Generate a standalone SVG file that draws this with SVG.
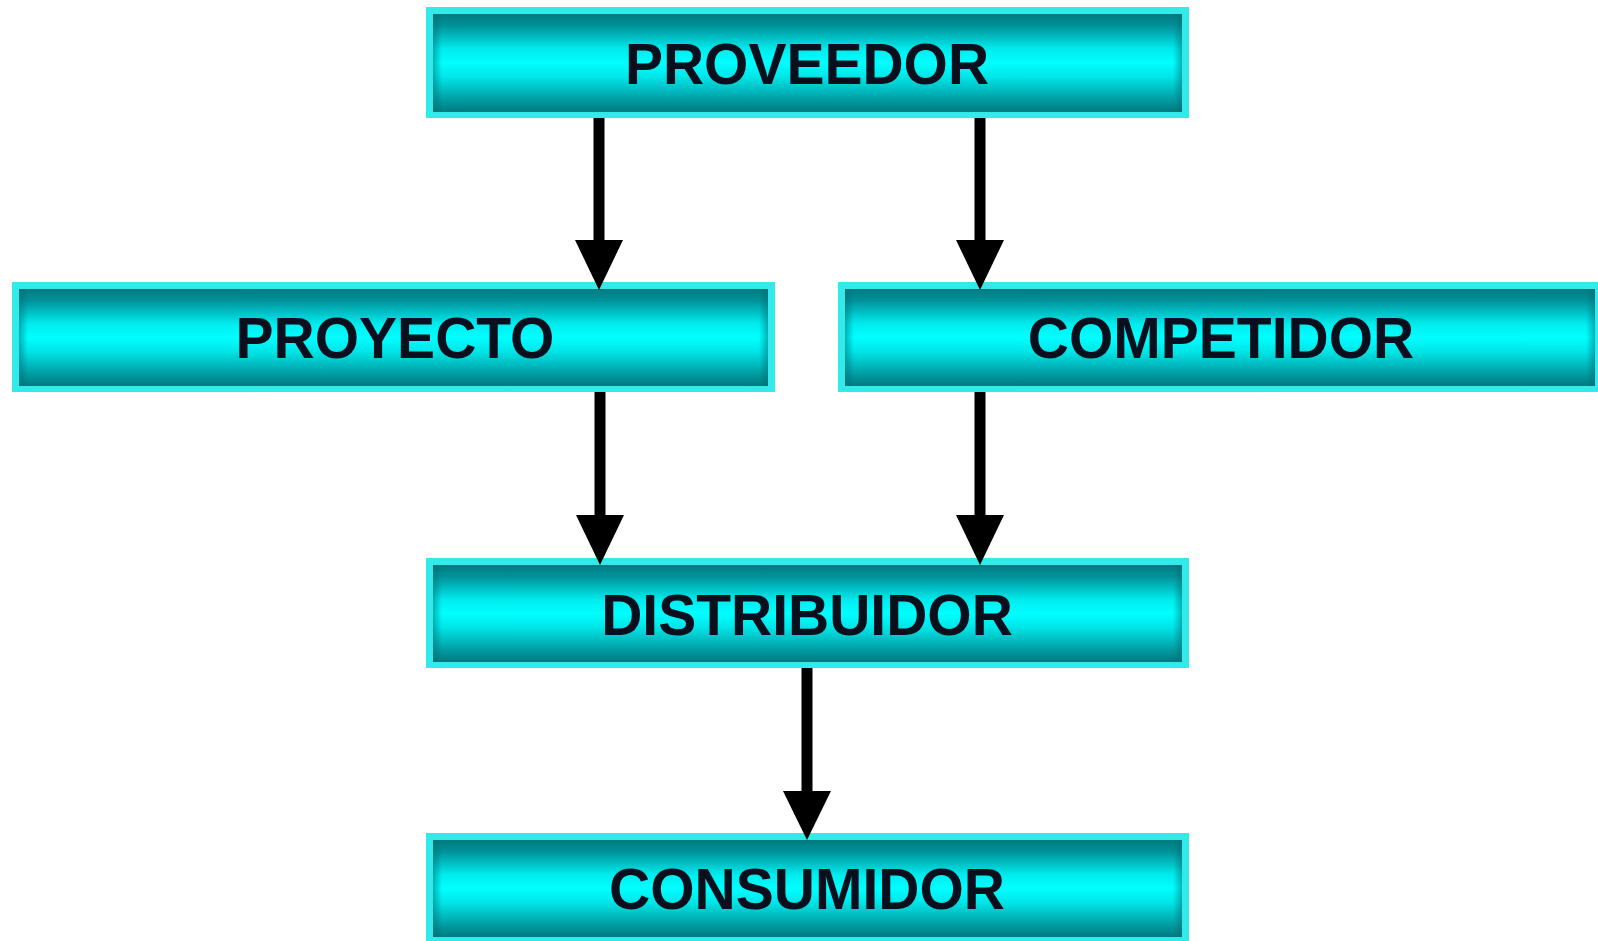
<svg xmlns="http://www.w3.org/2000/svg" width="1598" height="941" viewBox="0 0 1598 941">
<defs>
<linearGradient id="tube" x1="0" y1="0" x2="0" y2="1">
<stop offset="0" stop-color="#007a80"/>
<stop offset="0.12" stop-color="#00929a"/>
<stop offset="0.36" stop-color="#00ecee"/>
<stop offset="0.5" stop-color="#00ffff"/>
<stop offset="0.64" stop-color="#00e6e8"/>
<stop offset="0.9" stop-color="#00959a"/>
<stop offset="1" stop-color="#007a80"/>
</linearGradient>
<linearGradient id="ends" x1="0" y1="0" x2="1" y2="0">
<stop offset="0" stop-color="#006a70" stop-opacity="0.5"/>
<stop offset="0.012" stop-color="#006a70" stop-opacity="0"/>
<stop offset="0.988" stop-color="#006a70" stop-opacity="0"/>
<stop offset="1" stop-color="#006a70" stop-opacity="0.5"/>
</linearGradient>
<style>
.outer{fill:#33eaea}
.inner{fill:url(#tube)}
.shade{fill:url(#ends)}
.lbl{font-family:"Liberation Sans",Arial,sans-serif;font-weight:bold;font-size:57px;fill:#0a0f1e;text-anchor:middle}
.conn{stroke:#000;stroke-width:11;fill:none}
.head{fill:#000}
</style>
</defs>
<rect width="1598" height="941" fill="#ffffff"/>
<g id="proveedor">
<rect class="outer" x="426" y="7" width="763" height="111"/>
<rect class="inner" x="433" y="14" width="749" height="98"/>
<rect class="shade" x="433" y="14" width="749" height="98"/>
<text class="lbl" x="807" y="84">PROVEEDOR</text>
</g>
<g id="proyecto">
<rect class="outer" x="12" y="282" width="763" height="110"/>
<rect class="inner" x="19" y="289" width="749" height="97"/>
<rect class="shade" x="19" y="289" width="749" height="97"/>
<text class="lbl" x="395" y="358">PROYECTO</text>
</g>
<g id="competidor">
<rect class="outer" x="838" y="282" width="760" height="110"/>
<rect class="inner" x="845" y="289" width="750" height="97"/>
<rect class="shade" x="845" y="289" width="750" height="97"/>
<text class="lbl" x="1221" y="358">COMPETIDOR</text>
</g>
<g id="distribuidor">
<rect class="outer" x="426" y="558" width="763" height="110"/>
<rect class="inner" x="433" y="565" width="749" height="97"/>
<rect class="shade" x="433" y="565" width="749" height="97"/>
<text class="lbl" x="807" y="635">DISTRIBUIDOR</text>
</g>
<g id="consumidor">
<rect class="outer" x="426" y="833" width="763" height="110"/>
<rect class="inner" x="433" y="840" width="749" height="97"/>
<rect class="shade" x="433" y="840" width="749" height="97"/>
<text class="lbl" x="807" y="909">CONSUMIDOR</text>
</g>
<g id="connectors">
<path class="conn" d="M599,118 V241"/>
<path class="head" d="M575,240 L623,240 L599,290 Z"/>
<path class="conn" d="M980,118 V241"/>
<path class="head" d="M956,240 L1004,240 L980,290 Z"/>
<path class="conn" d="M600,392 V516"/>
<path class="head" d="M576,515 L624,515 L600,565 Z"/>
<path class="conn" d="M980,392 V516"/>
<path class="head" d="M956,515 L1004,515 L980,565 Z"/>
<path class="conn" d="M807,668 V792"/>
<path class="head" d="M783,791 L831,791 L807,840 Z"/>
</g>
</svg>
